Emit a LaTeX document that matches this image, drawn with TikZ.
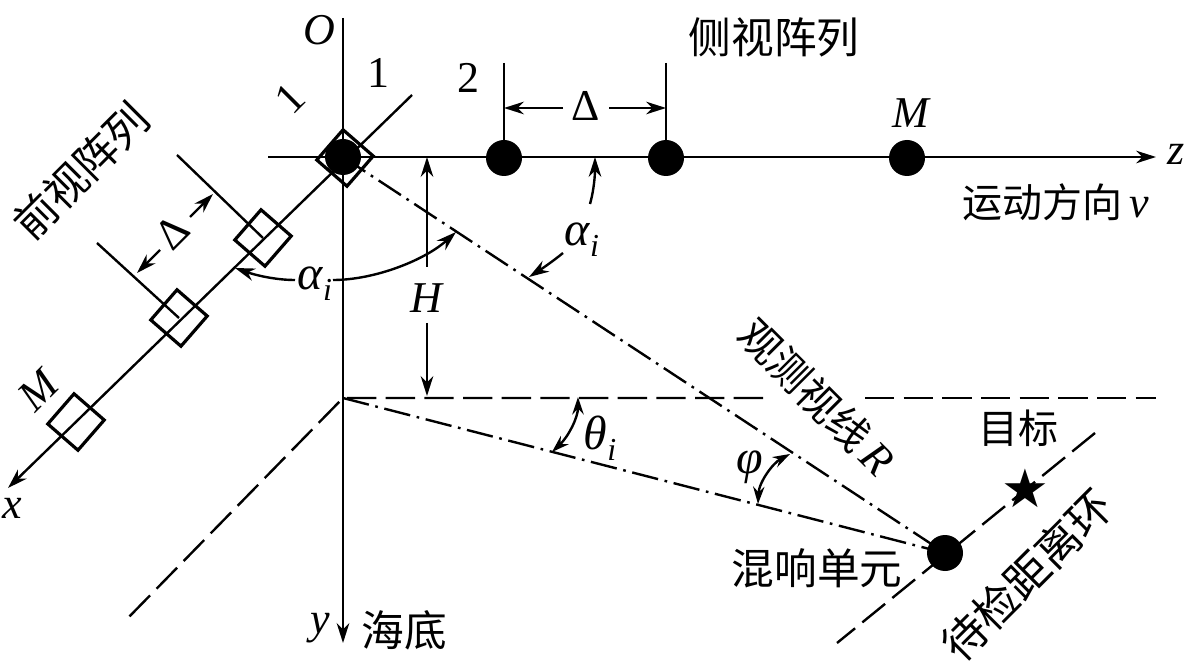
\documentclass[tikz,border=0pt]{standalone}
\usepackage{fontspec}
\setmainfont{Liberation Serif}
\newfontfamily\cjk{Noto Sans CJK SC}
\usetikzlibrary{arrows.meta}
\newcommand{\subi}{\raisebox{-8pt}{\fontsize{24pt}{24pt}\selectfont\itshape i}}
\newcommand{\lat}[1]{{\rmfamily\itshape\fontsize{33pt}{33pt}\selectfont #1}}
\tikzset{
 ln/.style={line width=1.8pt,black},
 arr/.style={ln,-{Stealth[length=15pt,width=9.5pt]}},
 sarr/.style={ln,{Stealth[length=13pt,width=8.5pt]}-{Stealth[length=13pt,width=8.5pt]}},
 dd/.style={ln,dash pattern=on 20pt off 5pt on 2pt off 5pt},
 dsh/.style={ln,dash pattern=on 22pt off 7pt},
 dot/.style={circle,fill=black,inner sep=0pt,minimum size=27pt},
 sq/.style={draw,line width=2.4pt,minimum size=30pt,inner sep=0pt,rotate=49},
 txt/.style={inner sep=0pt,font=\fontsize{33pt}{33pt}\selectfont},
 it/.style={inner sep=0pt,font=\fontsize{33pt}{33pt}\selectfont\itshape},
 gr/.style={inner sep=0pt,font=\fontsize{36pt}{36pt}\selectfont\itshape},
 cn/.style={inner sep=0pt,font=\fontsize{#1pt}{#1pt}\selectfont\cjk}
}
\begin{document}
\begin{tikzpicture}[x=0.75pt,y=-0.75pt]
\useasboundingbox (0,0) rectangle (1200,670);
\coordinate (O) at (343,157);
\coordinate (top) at (343,18);
\coordinate (yend) at (343,643);
\coordinate (zstart) at (268,157);
\coordinate (zend) at (1156,157);
\coordinate (xstart) at (412,95);
\coordinate (xend) at (8,488);
\coordinate (B) at (343,398);
\coordinate (hgap1) at (763,398);
\coordinate (hgap2) at (865,398);
\coordinate (hend) at (1156,398);
\coordinate (C) at (945,553);
\draw[arr] (top) -- (yend);
\draw[arr] (zstart) -- (zend);
\draw[arr] (xstart) -- (xend);
\node[dot] (d1) at (O) {};
\node[dot] (d2) at (504,158) {};
\node[dot] (d3) at (666,158) {};
\node[dot] (d4) at (907,158) {};
\node[dot] (d5) at (C) {};
\node[sq] (s1) at (345,158) {};
\node[sq] (s2) at (263,238) {};
\node[sq] (s3) at (179,318) {};
\node[sq] (s4) at (76,422) {};
\coordinate (t2) at (504,63); \coordinate (t3) at (666,63);
\draw[ln] (t2) -- (d2);
\draw[ln] (t3) -- (d3);
\coordinate (a2) at (504,108); \coordinate (a3) at (666,108);
\node[txt] (delta1) at (586,106) {Δ};
\coordinate (a2s) at (563,108); \coordinate (a3s) at (609,108);
\draw[arr] (a2s) -- (a2);
\draw[arr] (a3s) -- (a3);
\coordinate (f1) at (177,155); \coordinate (f2) at (97,243);
\draw[ln] (f1) -- (s2.center);
\draw[ln] (f2) -- (s3.center);
\coordinate (g1) at (213,194); \coordinate (g2) at (137,273);
\coordinate (g1s) at (190,217); \coordinate (g2s) at (160,250);
\node[txt,rotate=45] (delta2) at (172,232) {Δ};
\draw[arr] (g1s) -- (g1);
\draw[arr] (g2s) -- (g2);
\draw[dd] (O) -- (C);
\draw[dd] (B) -- (C);
\draw[dsh] (hgap1) -- (B) -- (126,620);
\draw[dsh] (hgap2) -- (hend);
\coordinate (r1) at (1095,433); \coordinate (r2) at (837,643);
\draw[dsh] (r1) -- (r2);
\node[it] (H) at (426,298) {H};
\coordinate (h1) at (427,157); \coordinate (h2) at (427,396);
\coordinate (h1s) at (427,267); \coordinate (h2s) at (427,323);
\draw[arr] (h1s) -- (h1);
\draw[arr] (h2s) -- (h2);
\coordinate (q1) at (333,280); \coordinate (q2) at (456,232);
\coordinate (q3) at (295,280); \coordinate (q4) at (235,268);
\draw[arr] (q1) .. controls (375,280) and (425,260) .. (q2);
\draw[arr] (q3) .. controls (275,280) and (255,275) .. (q4);
\coordinate (p1) at (563,253); \coordinate (p2) at (529,277);
\draw[arr] (p1) .. controls (552,262) and (540,270) .. (p2);
\coordinate (a0) at (595,157); \coordinate (a0s) at (590,204);
\draw[arr] (a0s) .. controls (594,190) and (595,175) .. (a0);
\coordinate (th1) at (578,397); \coordinate (th2) at (552,452);
\draw[sarr] (th1) .. controls (578,418) and (568,437) .. (th2);
\coordinate (ph1) at (790,454); \coordinate (ph2) at (758,504);
\draw[sarr] (ph1) .. controls (773,463) and (759,482) .. (ph2);
\node[it] (lO) at (319,30) {O};
\node[txt] (l1a) at (378,73) {1};
\node[txt,rotate=45] (l1b) at (290,98) {1};
\node[txt] (l2) at (468,78) {2};
\node[it] (lM1) at (911,113) {M};
\node[it,rotate=45] (lM2) at (38,390) {M};
\node[it] (lz) at (1176,154) {z};
\node[it] (lx) at (12,508) {x};
\node[it] (ly) at (320,628) {y};
\node[cn=32] (c1) at (774,37) {侧视阵列};
\node[cn=30] (c2) at (1056,202) {运动方向\,\lat{v}};
\node[cn=32,rotate=45] (c3) at (81,171) {前视阵列};
\node[cn=31,rotate=-45] (c4) at (817,397) {观测视线\,\lat{R}};
\node[cn=30] (c5) at (1018,428) {目标};
\node[cn=32] (c6) at (817,568) {混响单元};
\node[cn=33,rotate=45] (c7) at (1027,575) {待检距离环};
\node[cn=32] (c8) at (404,630) {海底};
\node[gr] (al1) at (315,284) {α\subi};
\node[gr] (al2) at (582,240) {α\subi};
\node[gr] (th) at (600,438) {θ\subi};
\node[gr] (ph) at (750,467) {φ};
\node[inner sep=0pt,font=\fontsize{40pt}{40pt}\selectfont] (star) at (1025,488) {\fontspec{DejaVu Sans}★};
\end{tikzpicture}
\end{document}
